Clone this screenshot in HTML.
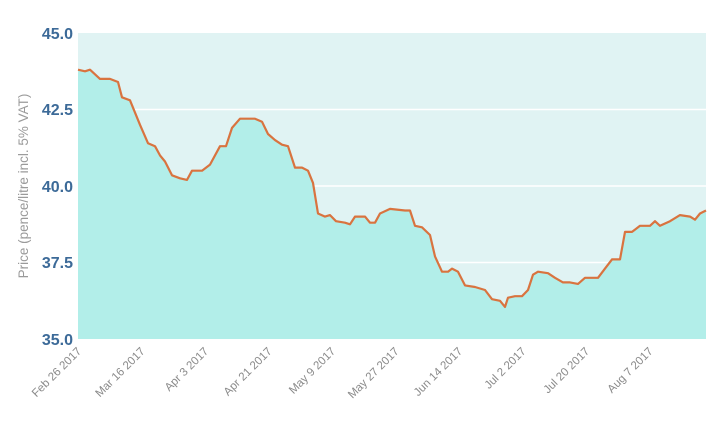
<!DOCTYPE html>
<html><head><meta charset="utf-8"><style>
body{margin:0;background:#fff;width:720px;height:431px;overflow:hidden}
svg{display:block;font-family:"Liberation Sans",sans-serif}
</style></head><body>
<svg id="s" width="720" height="431" viewBox="0 0 720 431">
<rect x="78" y="33" width="628" height="306" fill="#e0f3f3"/>
<g stroke="#fff" stroke-width="1.5">
<line x1="78" x2="706" y1="109.5" y2="109.5"/>
<line x1="78" x2="706" y1="186" y2="186"/>
<line x1="78" x2="706" y1="262.5" y2="262.5"/>
</g>
<path id="area" fill="#b2eee9"/>
<path id="line" fill="none" stroke="#d9733f" stroke-width="2.2" stroke-linejoin="round"/>
<g fill="#3c6a98" font-size="16" font-weight="bold" text-anchor="end">
<text x="73" y="39">45.0</text>
<text x="73" y="115">42.5</text>
<text x="73" y="192">40.0</text>
<text x="73" y="268">37.5</text>
<text x="73" y="345">35.0</text>
</g>
<text transform="translate(28,186) rotate(-90)" text-anchor="middle" font-size="13.5" fill="#9a9a9a">Price (pence/litre incl. 5% VAT)</text>
<g id="xl" fill="#8a8a8a" font-size="11.5" text-anchor="end"></g>
</svg>
<script>
var d=[[78,43.8],[85,43.75],[90,43.8],[100,43.5],[110,43.5],[118,43.4],[122,42.9],[130,42.8],[140,42.0],[148,41.4],[155,41.3],[160,41.0],[165,40.8],[172,40.35],[180,40.25],[187,40.2],[192,40.5],[202,40.5],[210,40.7],[220,41.3],[226,41.3],[232,41.9],[240,42.2],[255,42.2],[262,42.1],[268,41.7],[275,41.5],[282,41.35],[288,41.3],[295,40.6],[302,40.6],[308,40.5],[313,40.1],[318,39.1],[325,39.0],[330,39.05],[336,38.85],[345,38.8],[350,38.75],[355,39.0],[365,39.0],[370,38.8],[375,38.8],[380,39.1],[390,39.25],[405,39.2],[410,39.2],[415,38.7],[422,38.65],[430,38.4],[435,37.7],[442,37.2],[448,37.2],[452,37.3],[458,37.2],[465,36.75],[475,36.7],[485,36.6],[492,36.3],[500,36.25],[505,36.05],[508,36.35],[515,36.4],[522,36.4],[528,36.6],[533,37.1],[538,37.2],[548,37.15],[555,37.0],[563,36.85],[570,36.85],[578,36.8],[585,37.0],[598,37.0],[605,37.3],[612,37.6],[620,37.6],[625,38.5],[632,38.5],[640,38.7],[650,38.7],[655,38.85],[660,38.7],[670,38.85],[680,39.05],[690,39.0],[695,38.9],[700,39.1],[706,39.2]];
function Y(v){return 339-(v-35)*30.6}
var p=d.map(function(a,i){return (i?'L':'M')+a[0]+','+Y(a[1]).toFixed(1)}).join('');
document.getElementById('line').setAttribute('d',p);
document.getElementById('area').setAttribute('d',p+'L706,339L78,339Z');
var L=['Feb 26 2017','Mar 16 2017','Apr 3 2017','Apr 21 2017','May 9 2017','May 27 2017','Jun 14 2017','Jul 2 2017','Jul 20 2017','Aug 7 2017'];
var g=document.getElementById('xl'),h='';
L.forEach(function(t,i){var x=82+i*63.5;h+='<text transform="translate('+x+',352) rotate(-45)">'+t+'</text>'});
g.innerHTML=h;
</script>
</body></html>
